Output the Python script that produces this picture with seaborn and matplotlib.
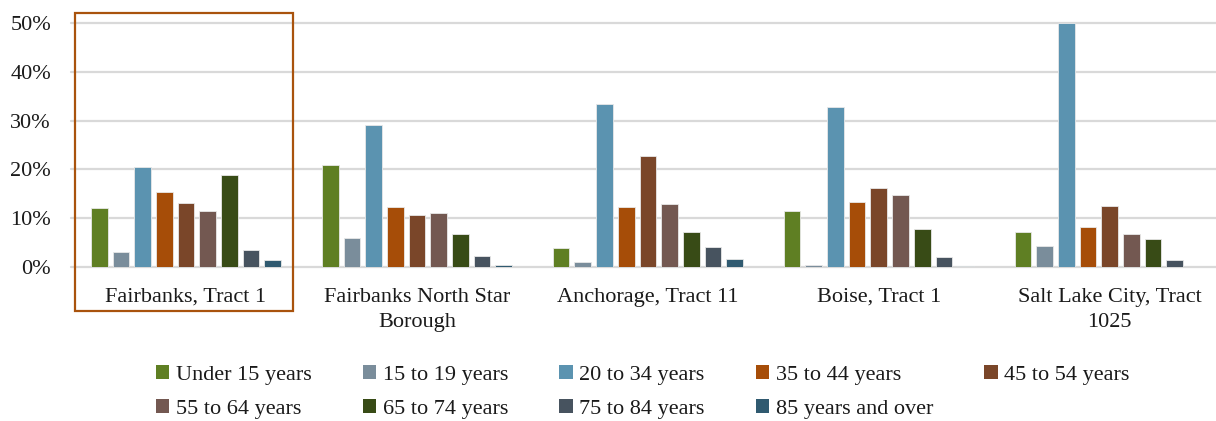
import matplotlib
matplotlib.use("Agg")
import matplotlib.pyplot as plt
import matplotlib.patches as mpatches
from matplotlib.ticker import PercentFormatter
import numpy as np
import pandas as pd
import seaborn as sns

places = ["Fairbanks, Tract 1", "Fairbanks North Star\nBorough", "Anchorage, Tract 11",
          "Boise, Tract 1", "Salt Lake City, Tract\n1025"]
age_groups = ["Under 15 years", "15 to 19 years", "20 to 34 years", "35 to 44 years",
              "45 to 54 years", "55 to 64 years", "65 to 74 years", "75 to 84 years",
              "85 years and over"]
colors = ["#5F7F23", "#7A8D9B", "#5B93B0", "#A64D08", "#7A4629",
          "#735851", "#384B16", "#47535F", "#305A70"]

# percent of population, one list per place (same order as age_groups)
fairbanks_t1 = [12.1, 3.1, 20.4, 15.3, 13.1, 11.5, 18.8, 3.4, 1.4]
fairbanks_nsb = [20.8, 5.9, 29.2, 12.2, 10.6, 11.0, 6.7, 2.2, 0.5]
anchorage_t11 = [3.8, 1.1, 33.4, 12.2, 22.7, 13.0, 7.1, 4.1, 1.6]
boise_t1 = [11.4, 0.5, 32.8, 13.4, 16.1, 14.7, 7.7, 2.0, 0.3]
slc_t1025 = [7.2, 4.3, 50.0, 8.2, 12.5, 6.7, 5.7, 1.4, 0.0]

rows = []
for place, vals in zip(places, [fairbanks_t1, fairbanks_nsb, anchorage_t11, boise_t1, slc_t1025]):
    for age, v in zip(age_groups, vals):
        rows.append({"place": place, "age": age, "pct": v})
df = pd.DataFrame(rows)

sns.set_theme(style="white")
plt.rcParams["font.family"] = ["Liberation Serif", "DejaVu Serif"]
text_color = "#1a1a1a"

fig = plt.figure(figsize=(12.16, 4.21), dpi=100)
ax = fig.add_axes([70.5 / 1216, 1 - 267 / 421, (1216 - 70.5) / 1216, (267 - 23) / 421])

sns.barplot(data=df, x="place", y="pct", hue="age", hue_order=age_groups,
            order=places, palette=colors, saturation=1, width=0.845, gap=0.23,
            edgecolor="#e8e8e8", linewidth=0.6, legend=False, ax=ax, zorder=3)

ax.set_ylim(0, 50)
ax.set_xlim(-0.5, 4.46)
ax.set_yticks(np.arange(0, 51, 10))
ax.yaxis.set_major_formatter(PercentFormatter(decimals=0))
ax.grid(axis="y", color="#D9D9D9", linewidth=1.6, zorder=0)
ax.set_axisbelow(True)
for gl in ax.get_ygridlines():
    gl.set_clip_on(False)
for s in ax.spines.values():
    s.set_visible(False)
ax.set_xlabel("")
ax.set_ylabel("")
ax.tick_params(axis="y", length=0, pad=14, labelsize=16, labelcolor=text_color)
ax.tick_params(axis="x", length=0, pad=15, labelsize=16, labelcolor=text_color)
for lbl in ax.get_xticklabels():
    lbl.set_linespacing(1.45)

# highlight box around first group
box = mpatches.Rectangle((75 / 1216, 1 - 311 / 421), 218 / 1216, 298 / 421,
                         transform=fig.transFigure, fill=False,
                         edgecolor="#A9530D", linewidth=1.6, zorder=10)
fig.patches.append(box)

# legend filled row by row (matplotlib fills by column)
order = [0, 5, 1, 6, 2, 7, 3, 8, 4]
handles = [mpatches.Patch(facecolor=colors[i], edgecolor="none", label=age_groups[i])
           for i in order]
fig.legend(handles=handles, loc="center", bbox_to_anchor=(643 / 1216, 1 - 392 / 421),
           ncol=5, frameon=False, fontsize=16, handlelength=0.6, handleheight=0.6,
           handletextpad=0.3, columnspacing=2.3, labelspacing=0.65,
           labelcolor=text_color)

fig.savefig("out.png", dpi=100)
plt.close()
